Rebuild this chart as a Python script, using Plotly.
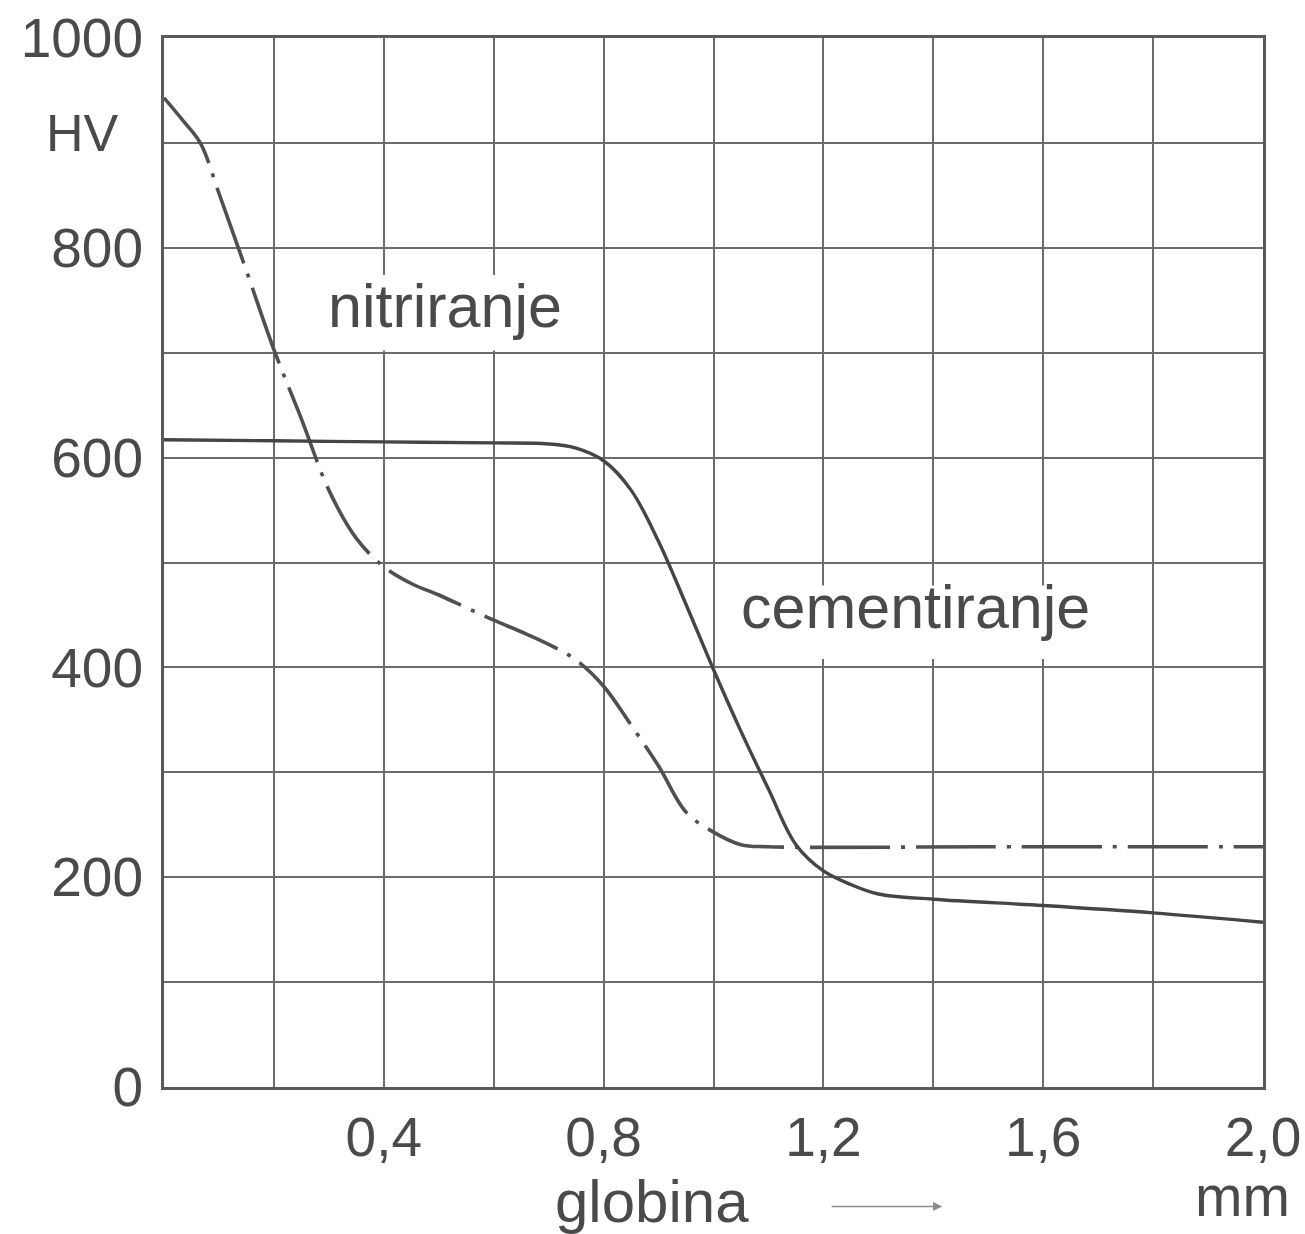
import plotly.graph_objects as go

# Hardness profiles (HV) versus depth below the surface (mm)
nitr_depth = [0, 0.035, 0.066, 0.1, 0.15, 0.2, 0.25, 0.3, 0.35, 0.4, 0.45, 0.5,
              0.55, 0.6, 0.65, 0.7, 0.75, 0.8, 0.85, 0.9, 0.95, 1.0, 1.05, 1.1,
              1.5, 2.0]
nitr_hv = [943, 921, 900, 852, 778, 703, 637, 569, 523, 496, 480, 469,
           457, 445, 434, 422, 407, 382, 345, 306, 262, 243, 231, 229,
           229, 229]

cem_depth = [0, 0.2, 0.4, 0.6, 0.7, 0.75, 0.8, 0.85, 0.9, 0.95, 1.0, 1.05,
             1.1, 1.15, 1.2, 1.25, 1.3, 1.4, 1.6, 1.8, 2.0]
cem_hv = [617, 616, 615, 614, 613, 609, 597, 569, 520, 460, 398, 339,
          284, 231, 206, 193, 184, 179, 173, 166, 157]

x_ticks = [0.2, 0.4, 0.6, 0.8, 1.0, 1.2, 1.4, 1.6, 1.8, 2.0]
x_labels = ["", "0,4", "", "0,8", "", "1,2", "", "1,6", "", "2,0"]
y_ticks = [0, 100, 200, 300, 400, 500, 600, 700, 800, 900, 1000]
y_labels = ["0", "", "200", "", "400", "", "600", "", "800", "", "1000"]

INK = "#4a4a4a"
GRID = "#6c6c6c"
TICK_FONT = dict(family="Liberation Sans, Arial", size=55, color=INK)
WORD_FONT = dict(family="Liberation Sans, Arial", size=61, color=INK)

fig = go.Figure()

fig.add_trace(go.Scatter(
    x=nitr_depth, y=nitr_hv, mode="lines",
    line=dict(color="#505050", width=3.6, dash="80px,11px,4px,11px",
              shape="spline", smoothing=1.0),
    hoverinfo="skip", showlegend=False))

fig.add_trace(go.Scatter(
    x=cem_depth, y=cem_hv, mode="lines",
    line=dict(color="#454545", width=3.4, shape="spline", smoothing=1.0),
    hoverinfo="skip", showlegend=False))

# white panels behind the curve labels interrupt the grid
fig.add_shape(type="rect", xref="x", yref="y", x0=0.25, x1=0.74, y0=702, y1=774,
              fillcolor="white", line_width=0, layer="between")
fig.add_shape(type="rect", xref="x", yref="y", x0=1.02, x1=1.78, y0=408, y1=478,
              fillcolor="white", line_width=0, layer="between")

fig.add_annotation(x=0.511, y=745, xref="x", yref="y", text="nitriranje",
                   showarrow=False, font=WORD_FONT, xanchor="center", yanchor="middle")
fig.add_annotation(x=1.368, y=458, xref="x", yref="y", text="cementiranje",
                   showarrow=False, font=WORD_FONT, xanchor="center", yanchor="middle")

# axis titles
fig.add_annotation(x=-0.0746, y=0.909, xref="paper", yref="paper", text="HV",
                   showarrow=False, font=dict(family="Liberation Sans, Arial", size=52, color=INK),
                   xanchor="center", yanchor="middle")
fig.add_annotation(x=0.444, y=-0.109, xref="paper", yref="paper", text="globina",
                   showarrow=False, font=dict(family="Liberation Sans, Arial", size=60, color=INK),
                   xanchor="center", yanchor="middle")
fig.add_annotation(x=0.981, y=-0.104, xref="paper", yref="paper", text="mm",
                   showarrow=False, font=dict(family="Liberation Sans, Arial", size=57, color=INK),
                   xanchor="center", yanchor="middle")
fig.add_annotation(x=0.708, y=-0.114, xref="paper", yref="paper", text="",
                   showarrow=True, ax=-112, ay=0, arrowhead=2, arrowsize=1.2,
                   arrowwidth=1.5, arrowcolor="#8a8a8a")

fig.update_xaxes(range=[0, 2.0], tickvals=x_ticks, ticktext=x_labels,
                 showgrid=True, gridcolor=GRID, gridwidth=2,
                 showline=True, linecolor="#5a5a5a", linewidth=3, mirror=True,
                 ticks="", ticklabelstandoff=0, tickfont=TICK_FONT, zeroline=False,
                 automargin=False)
fig.update_yaxes(range=[0, 1000], tickvals=y_ticks, ticktext=y_labels,
                 showgrid=True, gridcolor=GRID, gridwidth=2,
                 showline=True, linecolor="#5a5a5a", linewidth=3, mirror=True,
                 ticks="", ticklabelstandoff=7, tickfont=TICK_FONT, zeroline=False,
                 automargin=False)

fig.update_layout(
    width=1305, height=1234,
    margin=dict(l=164, r=42, t=38, b=147),
    paper_bgcolor="white", plot_bgcolor="white",
    showlegend=False,
)

fig.write_html("out.html")
